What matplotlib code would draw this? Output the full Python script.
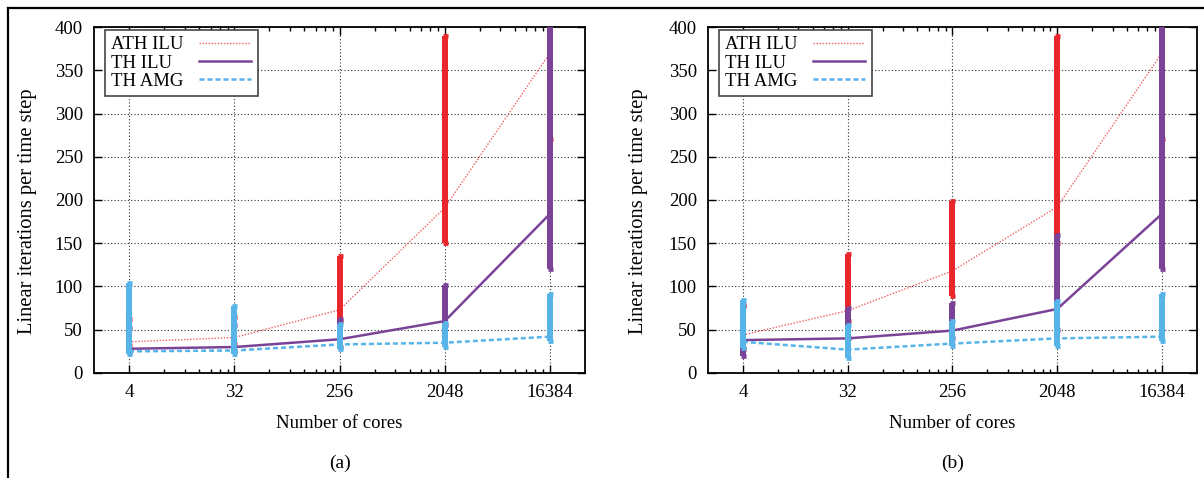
import numpy as np
import matplotlib
matplotlib.use('Agg')
import matplotlib.pyplot as plt
from matplotlib.lines import Line2D
from matplotlib.ticker import FixedLocator, FixedFormatter

plt.rcParams['font.family'] = ['Liberation Serif', 'DejaVu Serif']

# 核数 (对数坐标, 底数 2)
cores = [4, 32, 256, 2048, 16384]
core_labels = ['4', '32', '256', '2048', '16384']

# (a) 平均迭代次数及范围
a_ath_mean = [36, 41, 73, 191, 370]
a_ath_lo = [31, 34, 60, 150, 270]
a_ath_hi = [62, 65, 135, 390, 430]
a_th_ilu_mean = [28, 30, 39, 60, 184]
a_th_ilu_lo = [24, 25, 30, 55, 120]
a_th_ilu_hi = [52, 55, 62, 102, 430]
a_th_amg_mean = [25, 26, 33, 35, 42]
a_th_amg_lo = [22, 22, 28, 30, 37]
a_th_amg_hi = [104, 78, 57, 58, 91]

# (b) 平均迭代次数及范围
b_ath_mean = [44, 72, 118, 192, 370]
b_ath_lo = [28, 60, 89, 150, 270]
b_ath_hi = [78, 137, 199, 390, 430]
b_th_ilu_mean = [38, 40, 49, 74, 184]
b_th_ilu_lo = [20, 40, 40, 50, 120]
b_th_ilu_hi = [79, 75, 81, 159, 430]
b_th_amg_mean = [36, 27, 34, 40, 42]
b_th_amg_lo = [29, 17, 31, 31, 37]
b_th_amg_hi = [84, 55, 60, 83, 91]

RED = '#e8262b'
RED_LINE = '#f06060'
PURPLE = '#7b4397'
BLUE = '#56b4e9'

panels = [
    ('(a)', [0.0781, 0.2197, 0.4078, 0.7238], -0.117,
     (a_ath_mean, a_ath_lo, a_ath_hi),
     (a_th_ilu_mean, a_th_ilu_lo, a_th_ilu_hi),
     (a_th_amg_mean, a_th_amg_lo, a_th_amg_hi)),
    ('(b)', [0.5880, 0.2197, 0.4061, 0.7238], -0.122,
     (b_ath_mean, b_ath_lo, b_ath_hi),
     (b_th_ilu_mean, b_th_ilu_lo, b_th_ilu_hi),
     (b_th_amg_mean, b_th_amg_lo, b_th_amg_hi)),
]

fig = plt.figure(figsize=(12.04, 4.78), dpi=100)

# 外框 (上边和左边)
fig.add_artist(Line2D([8 / 1204, 1], [1 - 8 / 478, 1 - 8 / 478], color='black', lw=1.6,
                      transform=fig.transFigure))
fig.add_artist(Line2D([8 / 1204, 8 / 1204], [0, 1 - 8 / 478], color='black', lw=1.6,
                      transform=fig.transFigure))


def draw_series(ax, data, color, line_color, ls, lw, label, z):
    mean, lo, hi = (np.array(d, dtype=float) for d in data)
    ax.plot(cores, mean, color=line_color, ls=ls, lw=lw, label=label, zorder=z)
    # 范围用误差棒画, 以区间中点为中心
    mid = (lo + hi) / 2
    ax.errorbar(cores, mid, yerr=(hi - lo) / 2, fmt='none', ecolor=color,
                elinewidth=4.3, capsize=1.8, capthick=3.4, zorder=z + 0.5)


legends = []
for title, rect, ylab_x, ath, th_ilu, th_amg in panels:
    ax = fig.add_axes(rect)
    ax.set_xscale('log', base=2)
    ax.set_xlim(2, 32768)
    ax.set_ylim(0, 400)

    draw_series(ax, ath, RED, RED_LINE, (0, (1, 1.2)), 1.0, 'ATH ILU', 3)
    draw_series(ax, th_ilu, PURPLE, PURPLE, '-', 1.8, 'TH ILU', 4)
    draw_series(ax, th_amg, BLUE, BLUE, (0, (2, 1.2)), 1.8, 'TH AMG', 5)

    # 坐标轴刻度
    ax.xaxis.set_major_locator(FixedLocator(cores))
    ax.xaxis.set_major_formatter(FixedFormatter(core_labels))
    minor = [m * k for m in cores[:-1] for k in range(2, 8)]
    ax.xaxis.set_minor_locator(FixedLocator(minor))
    ax.xaxis.set_minor_formatter(FixedFormatter([''] * len(minor)))
    ax.set_yticks(range(0, 401, 50))
    ax.tick_params(which='both', direction='in', top=True, right=True, labelsize=13.5,
                   width=1.0, pad=8)
    ax.tick_params(which='major', length=6)
    ax.tick_params(which='minor', length=3)
    for sp in ax.spines.values():
        sp.set_linewidth(1.3)

    ax.grid(True, which='major', color='#333333', ls=(0, (1, 2)), lw=0.8)
    ax.set_axisbelow(True)

    ax.set_xlabel('Number of cores', fontsize=13.5, labelpad=10)
    ax.set_ylabel('Linear iterations per time step', fontsize=14.8)
    ax.yaxis.set_label_coords(ylab_x, 0.468)
    ax.text(0.5, -0.235, title, transform=ax.transAxes, ha='center', va='top', fontsize=14)

    leg = ax.legend(loc='upper left', bbox_to_anchor=(0.022, 0.992), markerfirst=False,
                    fontsize=13.5, handlelength=2.8, labelspacing=0.05, borderpad=0.35,
                    handletextpad=0.8, fancybox=False, framealpha=1, borderaxespad=0)
    leg.get_frame().set_edgecolor('#444444')
    leg.get_frame().set_linewidth(1.2)
    leg.set_zorder(10)
    legends.append(leg)

# 图例文字左对齐: 按文字宽度补齐每行文字与线段之间的间距
renderer = fig.canvas.get_renderer()
px_per_pt = fig.dpi / 72.0
for leg in legends:
    widths = [t.get_window_extent(renderer).width for t in leg.get_texts()]
    wmax = max(widths)
    rows = [r for col in leg._legend_handle_box.get_children() for r in col.get_children()]
    for row, w in zip(rows, widths):
        row.sep = row.sep + (wmax - w) / px_per_pt

fig.savefig('out.png', dpi=100)
